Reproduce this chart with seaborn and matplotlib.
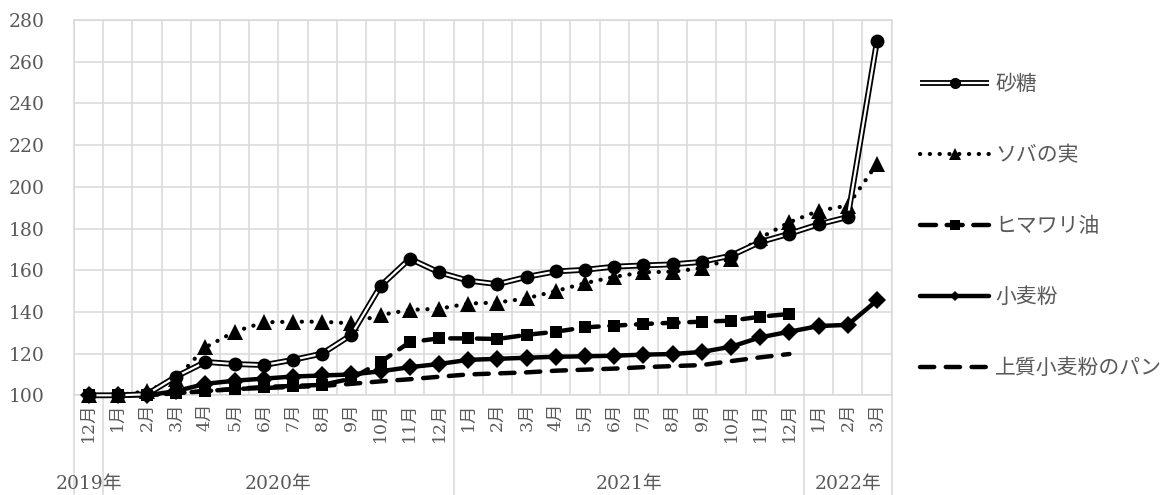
import numpy as np
import matplotlib
matplotlib.use("Agg")
import matplotlib.pyplot as plt
from matplotlib.lines import Line2D
from matplotlib.legend_handler import HandlerTuple
import seaborn as sns

# Monthly price index (December 2019 = 100)
month_labels = ["12月",
                "1月", "2月", "3月", "4月", "5月", "6月", "7月", "8月", "9月", "10月", "11月", "12月",
                "1月", "2月", "3月", "4月", "5月", "6月", "7月", "8月", "9月", "10月", "11月", "12月",
                "1月", "2月", "3月"]
year_labels = ["2019年", "2020年", "2021年", "2022年"]
year_sizes = [1, 12, 12, 3]

sugar = [100, 100, 100.5, 109, 116, 115, 114.5, 117, 120, 129, 152.5, 165.5, 159,
         155, 153.3, 156.8, 159.4, 160.2, 161.7, 162.3, 162.8, 164, 167, 173.5, 177.5,
         182, 185.5, 270]
buckwheat = [100, 100, 102, 108, 123, 130.5, 135, 135.3, 135.3, 134.5, 138.5, 141, 141.5,
             144, 144.5, 146.5, 150, 153.8, 156.8, 159, 159.3, 161, 165.5, 175.5, 183,
             188.5, 191, 211]
sunflower_oil = [100, 100, 100, 101, 102, 103, 104, 104.5, 105, 108, 116, 125.5, 127.3,
                 127.3, 127, 129, 130.5, 132.6, 133.4, 134.2, 134.8, 135.3, 135.8, 137.7, 139]
wheat_flour = [100, 100, 100, 102, 105.5, 107, 108, 109, 109.5, 110, 111.5, 113.5, 115,
               117, 117.5, 118, 118.5, 118.7, 119, 119.5, 119.8, 120.8, 123.3, 127.8, 130.5,
               133.2, 133.8, 145.5]
bread = [100, 100, 100, 101, 102, 103, 103.5, 104, 104.5, 105.5, 106.7, 107.7, 108.9,
         110, 110.5, 111, 111.8, 112.3, 112.8, 113.5, 114, 114.5, 116.4, 118.2, 119.8]

series_names = ["砂糖", "ソバの実", "ヒマワリ油", "小麦粉", "上質小麦粉のパン"]
y_ticks = list(range(100, 281, 20))

sns.set_theme(style="white")
plt.rcParams["font.family"] = ["DejaVu Serif", "Noto Sans CJK JP"]
plt.rcParams["ytick.major.pad"] = 21
plt.rcParams["xtick.major.pad"] = 5
TEXT = "#595959"
GRID = "#d9d9d9"

fig = plt.figure(figsize=(11.63, 4.95), dpi=100)
ax = fig.add_axes([74 / 1163, 1 - 395.3 / 495, (891.6 - 74) / 1163, (395.3 - 20) / 495])

pos = np.arange(len(month_labels))

def draw(values, **kw):
    n = len(values)
    sns.lineplot(x=pos[:n], y=values, ax=ax, sort=False, estimator=None,
                 legend=False, clip_on=False, **kw)

# bread: plain dashes
draw(bread, color="black", linewidth=3.2, linestyle=(0, (3.2, 2.6)),
     dash_capstyle="round", zorder=3)
# wheat flour: solid with diamonds
draw(wheat_flour, color="black", linewidth=3.2, marker="D", markersize=9,
     markeredgewidth=0, zorder=4)
# sunflower oil: long dashes with squares
draw(sunflower_oil, color="black", linewidth=3.2, linestyle=(0, (3.6, 2.4)),
     dash_capstyle="round", marker="s", markersize=9, markeredgewidth=0, zorder=5)
# buckwheat: round dots with triangles
draw(buckwheat, color="black", linewidth=3.0, linestyle=(0, (0.05, 2.3)),
     dash_capstyle="round", marker="^", markersize=11, markeredgewidth=0, zorder=6)
# sugar: double line with circles
draw(sugar, color="black", linewidth=4.2, solid_capstyle="butt", zorder=7)
draw(sugar, color="white", linewidth=1.6, solid_capstyle="butt", zorder=8)
draw(sugar, color="black", linestyle="", marker="o", markersize=10,
     markeredgewidth=0, zorder=9)

ax.set_xlim(-0.5, len(month_labels) - 0.5)
ax.set_ylim(100, 280)
ax.set_yticks(y_ticks)
ax.set_xticks(pos)
ax.set_xticks(np.arange(-0.5, len(month_labels), 1.0), minor=True)
ax.set_xticklabels(month_labels, rotation=90, color=TEXT, fontsize=12.5)
ax.set_yticklabels([str(v) for v in y_ticks], color=TEXT, fontsize=13.5)
ax.tick_params(axis="x", which="both", length=0, pad=5)
ax.tick_params(axis="y", which="both", length=0, pad=21)
for lbl in ax.get_xticklabels():
    lbl.set_verticalalignment("top")
ax.grid(False)
ax.grid(True, axis="y", which="major", color=GRID, linewidth=1.1)
ax.grid(True, axis="x", which="minor", color=GRID, linewidth=1.1)
for sp in ax.spines.values():
    sp.set_color(GRID)
    sp.set_linewidth(1.1)
ax.set_axisbelow(True)
ax.set_xlabel("")
ax.set_ylabel("")

# year group labels and separators under the month labels
edges = np.concatenate([[0], np.cumsum(year_sizes)]) - 0.5
for e in edges:
    ax.axvline(e, ymin=-0.27, ymax=0, color=GRID, linewidth=1.1, clip_on=False)
for i, lab in enumerate(year_labels):
    xc = (edges[i] + edges[i + 1]) / 2
    ax.text(xc, -0.236, lab, transform=ax.get_xaxis_transform(),
            ha="center", va="center", color=TEXT, fontsize=13.5)

# legend
sugar_h = (Line2D([], [], color="black", linewidth=4.2, solid_capstyle="butt"),
           Line2D([], [], color="white", linewidth=1.6, solid_capstyle="butt"),
           Line2D([], [], color="black", linestyle="", marker="o", markersize=8,
                  markeredgewidth=0))
buck_h = Line2D([], [], color="black", linewidth=3.0, linestyle=(0, (0.05, 2.3)),
                dash_capstyle="round", marker="^", markersize=8, markeredgewidth=0)
oil_h = Line2D([], [], color="black", linewidth=3.2, linestyle=(0, (3.6, 2.4)),
               dash_capstyle="round", marker="s", markersize=7.5, markeredgewidth=0)
wheat_h = Line2D([], [], color="black", linewidth=3.2, marker="D", markersize=5.5,
                 markeredgewidth=0)
bread_h = Line2D([], [], color="black", linewidth=3.2, linestyle=(0, (3.2, 2.6)),
                 dash_capstyle="round")
leg = fig.legend([sugar_h, buck_h, oil_h, wheat_h, bread_h], series_names,
                 handler_map={tuple: HandlerTuple(ndivide=1)},
                 loc="center left", bbox_to_anchor=(910 / 1163, 1 - 226 / 495),
                 frameon=False, labelcolor=TEXT, handlelength=3.3,
                 handletextpad=0.3, labelspacing=2.35, borderpad=0,
                 prop={"family": ["Noto Sans CJK JP"], "size": 15})

fig.savefig("out.png", dpi=100)
